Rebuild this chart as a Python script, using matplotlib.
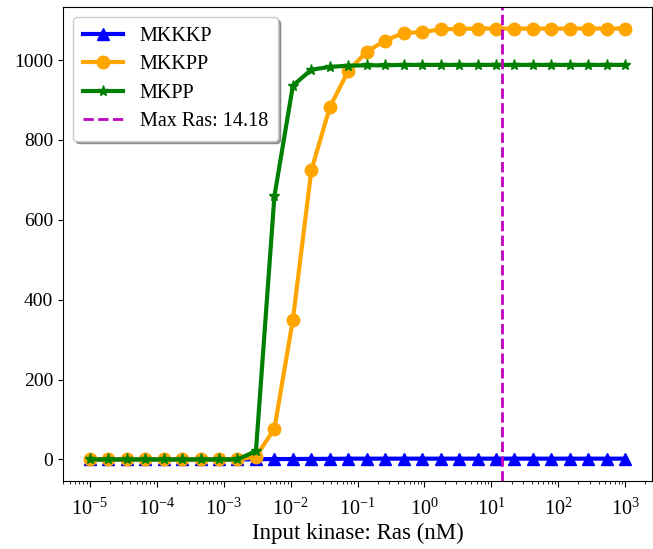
import numpy as np
import matplotlib
matplotlib.use("Agg")
import matplotlib.pyplot as plt

plt.rcParams['font.family'] = ['Liberation Serif', 'DejaVu Serif']
plt.rcParams['mathtext.fontset'] = 'stix'

# Ras input concentrations (nM), 30 log-spaced doses
ras = np.logspace(-5, 3, 30)

mkkkp = [0, 0, 0, 0, 0, 0, 0, 0, 0, 0.5,
         1, 1, 1.5, 1.5, 2, 2, 2, 2, 2, 2,
         2, 2, 2, 2, 2, 2, 2, 2, 2, 2]
mkkpp = [0, 0, 0, 0, 0, 0, 0, 0, 0, 7,
         77, 350, 724, 882, 973, 1021, 1049, 1068, 1070, 1077,
         1078, 1079, 1079, 1079, 1079, 1079, 1079, 1079, 1079, 1079]
mkpp = [0, 0, 0, 0, 0, 0, 0, 0, 0, 21,
        659, 936, 976, 983, 986, 987, 987, 988, 988, 988,
        988, 988, 988, 988, 988, 988, 988, 988, 988, 988]
max_ras = 14.18

fig = plt.figure(figsize=(6.53, 5.49), dpi=100)
ax = fig.add_axes([63 / 653, 1 - 481 / 549, 589 / 653, 474 / 549])

ax.plot(ras, mkkkp, color='blue', marker='^', lw=3, ms=9, label='MKKKP')
ax.plot(ras, mkkpp, color='orange', marker='o', lw=3, ms=9, label='MKKPP')
ax.plot(ras, mkpp, color='green', marker='*', lw=3, ms=8, label='MKPP')
ax.axvline(max_ras, color='m', ls='--', lw=2, label=f'Max Ras: {max_ras:.2f}')

ax.set_xscale('log')
ax.set_xlabel('Input kinase: Ras (nM)', fontsize=16.5, labelpad=2)
ax.tick_params(axis='y', labelsize=14)
ax.tick_params(axis='x', which='major', labelsize=14.5, pad=8, length=4.5)
ax.tick_params(axis='x', which='minor', length=2.5)
ax.legend(loc='upper left', fontsize=14.5, shadow=True, fancybox=True,
          borderpad=0.5, labelspacing=0.45, handlelength=2.0)

fig.savefig('out.png', dpi=100)
